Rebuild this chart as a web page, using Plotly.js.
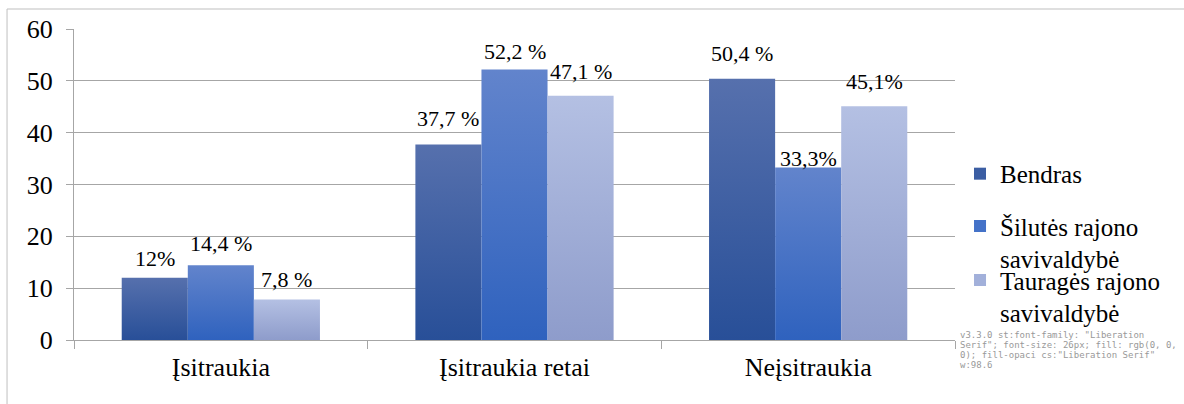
<!DOCTYPE html>
<html><head><meta charset="utf-8">
<script src="https://cdn.plot.ly/plotly-3.0.1.min.js"></script>
<style>
html,body{margin:0;padding:0;background:#fff}
#chart{width:1184px;height:404px}
</style>
</head><body><div id="chart"></div>
<pre id="dbg" style="position:absolute;left:960px;top:330px;margin:0;font:9px monospace;color:#999;width:220px;white-space:pre-wrap"></pre>
<script>
const categories = ['Įsitraukia', 'Įsitraukia retai', 'Neįsitraukia'];
const seriesNames = ['Bendras', 'Šilutės rajono<br>savivaldybė', 'Tauragės rajono<br>savivaldybė'];
const bendras = [12, 37.7, 50.4];
const silute = [14.4, 52.2, 33.3];
const taurage = [7.8, 47.1, 45.1];
const bendrasLabels = ['12%', '37,7 %', '50,4 %'];
const siluteLabels = ['14,4 %', '52,2 %', '33,3%'];
const taurageLabels = ['7,8 %', '47,1 %', '45,1%'];
const yTickVals = [0, 10, 20, 30, 40, 50, 60];

const FONT = 'Liberation Serif';
const baseColors = ['#3b5ea3', '#4472c8', '#a2b0da'];
const gradStops = [['#5670ad', '#284f98'], ['#6284cc', '#2f62be'], ['#b4c0e3', '#8e9ccb']];
const labelLift = [[11, 18, 17], [13, 9, 0], [12, 16, 16]];
const BARGAP = 0.325;

const values = [bendras, silute, taurage];
const labels = [bendrasLabels, siluteLabels, taurageLabels];
const legendIds = ['legend', 'legend2', 'legend3'];

const traces = values.map((v, j) => ({
  type: 'bar', x: categories, y: v, name: seriesNames[j],
  marker: {color: baseColors[j], line: {width: 0}},
  legend: legendIds[j], hoverinfo: 'skip'
}));

const barW = (1 - BARGAP) / 3;
const annotations = [];
values.forEach((v, j) => {
  v.forEach((val, i) => {
    annotations.push({
      x: i + (j - 1) * barW, y: val, xref: 'x', yref: 'y',
      text: labels[j][i], showarrow: false, yanchor: 'bottom', xanchor: 'center',
      yshift: labelLift[j][i] - 6,
      font: {family: FONT, size: 22, color: '#000'}
    });
  });
});

const legendCommon = {xanchor: 'left', x: 1.0057, valign: 'top', bgcolor: 'rgba(0,0,0,0)',
  borderwidth: 0, font: {family: FONT, size: 25, color: '#000'}, itemclick: false, itemdoubleclick: false};

const layout = {
  width: 1184, height: 404,
  margin: {l: 74, r: 229, t: 29, b: 64},
  paper_bgcolor: '#fff', plot_bgcolor: '#fff',
  barmode: 'group', bargap: BARGAP, bargroupgap: 0,
  font: {family: FONT, color: '#000'},
  showlegend: true,
  legend: Object.assign({}, legendCommon, {y: 0.534, yanchor: 'middle'}),
  legend2: Object.assign({}, legendCommon, {y: 0.440, yanchor: 'top'}),
  legend3: Object.assign({}, legendCommon, {y: 0.266, yanchor: 'top'}),
  xaxis: {
    type: 'category', showline: true, linecolor: '#a6a6a6', linewidth: 1,
    ticks: 'outside', tickson: 'boundaries', ticklen: 8, tickcolor: '#a6a6a6', tickwidth: 1,
    tickfont: {family: FONT, size: 26, color: '#000'}, showgrid: false, zeroline: false,
    ticklabelstandoff: 4
  },
  yaxis: {
    range: [0, 60], tickvals: yTickVals, showline: true, linecolor: '#a6a6a6', linewidth: 1,
    ticks: 'outside', ticklen: 7, tickcolor: '#a6a6a6', tickwidth: 1,
    showgrid: true, gridcolor: '#a6a6a6', gridwidth: 1, zeroline: false,
    tickfont: {family: FONT, size: 26, color: '#000'}, ticklabelstandoff: 8
  },
  shapes: [{
    type: 'rect', xref: 'paper', yref: 'paper', x0: -0.076, x1: 1.3, y0: -0.3, y1: 1.0643,
    line: {color: '#bfbfbf', width: 1}, fillcolor: 'rgba(0,0,0,0)', layer: 'below'
  }],
  annotations: annotations
};

function decorate(gd) {
  const svg = gd.querySelector('svg.main-svg');
  const ns = 'http://www.w3.org/2000/svg';
  let defs = svg.querySelector('defs');
  if (!defs) { defs = document.createElementNS(ns, 'defs'); svg.insertBefore(defs, svg.firstChild); }
  gradStops.forEach((s, j) => {
    const g = document.createElementNS(ns, 'linearGradient');
    g.setAttribute('id', 'bg' + j);
    g.setAttribute('x1', '0'); g.setAttribute('y1', '0'); g.setAttribute('x2', '0'); g.setAttribute('y2', '1');
    [[0, s[0]], [1, s[1]]].forEach(([o, c]) => {
      const st = document.createElementNS(ns, 'stop');
      st.setAttribute('offset', o); st.setAttribute('stop-color', c);
      g.appendChild(st);
    });
    defs.appendChild(g);
  });
  gd.querySelectorAll('.barlayer .trace').forEach((t, j) => {
    t.querySelectorAll('.point path').forEach(p => { p.style.fill = 'url(#bg' + j + ')'; });
  });
  const t = gd.querySelector('.xtick text');
  document.getElementById('dbg').textContent = 'v' + Plotly.version + ' st:' + (t ? t.getAttribute('style') : 'none').slice(0, 80) +
    ' cs:' + (t ? getComputedStyle(t).fontFamily : '') + ' w:' + (t ? t.getBBox().width.toFixed(1) : '');
}

Plotly.newPlot('chart', traces, layout, {displayModeBar: false}).then(decorate).catch(e => {
  document.getElementById('dbg').textContent = 'ERR ' + e;
});
</script>
</body></html>
